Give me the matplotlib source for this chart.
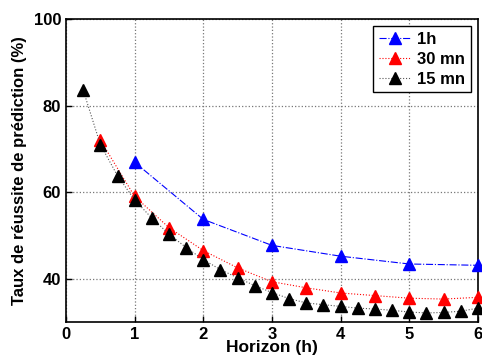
import matplotlib
matplotlib.use("Agg")
import matplotlib.pyplot as plt

# horizons (h)
x_1h = [1, 2, 3, 4, 5, 6]
y_1h = [66.9, 53.7, 47.7, 45.2, 43.4, 43.1]

x_30 = [0.5, 1, 1.5, 2, 2.5, 3, 3.5, 4, 4.5, 5, 5.5, 6]
y_30 = [72.0, 59.0, 51.8, 46.5, 42.5, 39.3, 37.9, 36.7, 36.1, 35.5, 35.3, 35.7]

x_15 = [0.25, 0.5, 0.75, 1, 1.25, 1.5, 1.75, 2, 2.25, 2.5, 2.75, 3,
        3.25, 3.5, 3.75, 4, 4.25, 4.5, 4.75, 5, 5.25, 5.5, 5.75, 6]
y_15 = [83.6, 71.0, 63.8, 58.2, 54.0, 50.3, 47.2, 44.4, 42.1, 40.2, 38.4, 36.8,
        35.4, 34.4, 34.0, 33.6, 33.2, 33.0, 32.7, 32.3, 32.1, 32.2, 32.5, 33.2]

plt.rcParams['font.family'] = ['Liberation Sans', 'DejaVu Sans']
plt.rcParams['font.weight'] = 'bold'

fig = plt.figure(figsize=(4.82, 3.62), dpi=100)
ax = fig.add_axes([66 / 482, 1 - 322 / 362, 412 / 482, 303 / 362])

ax.plot(x_1h, y_1h, linestyle='-.', color='blue', lw=0.8,
        marker='^', ms=9, mec='blue', mfc='blue', label='1h', clip_on=False, zorder=3)
ax.plot(x_30, y_30, linestyle=':', color='red', lw=0.8,
        marker='^', ms=9, mec='red', mfc='red', label='30 mn', clip_on=False, zorder=3)
ax.plot(x_15, y_15, linestyle=':', color='#555555', lw=0.8,
        marker='^', ms=9, mec='black', mfc='black', label='15 mn', clip_on=False, zorder=4)

ax.set_xlim(0, 6)
ax.set_ylim(30, 100)
ax.set_xticks(range(0, 7))
ax.set_yticks([40, 60, 80, 100])
ax.grid(True, linestyle=':', color='#777777', lw=0.9)
ax.tick_params(direction='in', labelsize=12, length=4, width=1)
for s in ax.spines.values():
    s.set_linewidth(1.2)

ax.set_xlabel('Horizon (h)', fontsize=12.5, fontweight='bold', labelpad=-1)
ax.set_ylabel('Taux de réussite de prédiction (%)', fontsize=12, fontweight='bold', labelpad=5)

leg = ax.legend(loc='upper right', fontsize=12, fancybox=False, framealpha=1,
                edgecolor='black', handlelength=1.9, borderaxespad=0.4,
                handletextpad=0.4, labelspacing=0.3, borderpad=0.35)
leg.get_frame().set_linewidth(1.0)

fig.savefig('out.png', dpi=100)
